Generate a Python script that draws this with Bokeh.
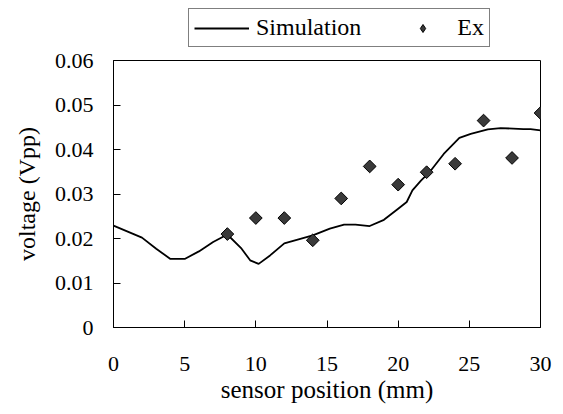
import numpy as np
from bokeh.plotting import figure
from bokeh.layouts import column
from bokeh.models import Legend, LegendItem, Range1d, FixedTicker
from bokeh.embed import file_html
from bokeh.resources import INLINE

# Simulation curve
sim_x = [0, 2, 3, 4, 5, 6, 7, 8, 9, 9.6, 10.2, 11, 12, 14, 15.2, 16.2, 17, 18, 19, 20,
         20.6, 21, 21.6, 22.2, 23.2, 24.3, 25.1, 26.3, 27.2, 28.8, 29.3, 30]
sim_y = [0.0229, 0.0202, 0.0177, 0.0154, 0.0154, 0.0171, 0.0192, 0.0209, 0.0177, 0.0151,
         0.0143, 0.0162, 0.0189, 0.0207, 0.0222, 0.0231, 0.0231, 0.0228, 0.0242, 0.0267,
         0.0282, 0.0308, 0.0330, 0.0349, 0.0390, 0.0426, 0.0435, 0.0445, 0.0448, 0.0446,
         0.0446, 0.0443]

# Experimental points (Ex)
ex_x = [8, 10, 12, 14, 16, 18, 20, 22, 24, 26, 28, 30]
ex_y = [0.0210, 0.0246, 0.0246, 0.0196, 0.0290, 0.0362, 0.0321, 0.0349, 0.0368,
        0.0465, 0.0381, 0.0482]

x_ticks = [0, 5, 10, 15, 20, 25, 30]
y_ticks = [0, 0.01, 0.02, 0.03, 0.04, 0.05, 0.06]

FONT = "Liberation Serif"
PT_FILL = "#3a3a3a"

# ---------------- main chart ----------------
p = figure(output_backend="svg", toolbar_location=None,
           width=556, height=361,
           min_border_left=113, min_border_top=13, min_border_right=16, min_border_bottom=81,
           x_range=Range1d(0, 30), y_range=Range1d(0, 0.06))

p.background_fill_color = "white"
p.border_fill_color = "white"
p.outline_line_color = "black"
p.outline_line_width = 1
p.xgrid.visible = False
p.ygrid.visible = False

p.line(sim_x, sim_y, line_color="black", line_width=1.8)
p.scatter(ex_x, ex_y, marker="square", angle=np.pi / 4, size=9,
          fill_color=PT_FILL, line_color="black", line_width=1)

for ax in (p.xaxis[0], p.yaxis[0]):
    ax.major_label_text_font = FONT
    ax.major_label_text_font_size = "22px"
    ax.major_label_text_color = "black"
    ax.axis_label_text_font = FONT
    ax.axis_label_text_font_style = "normal"
    ax.axis_label_text_font_size = "25px"
    ax.axis_label_text_color = "black"
    ax.axis_line_color = "black"
    ax.major_tick_line_color = "black"
    ax.major_tick_in = 7
    ax.major_tick_out = 0
    ax.minor_tick_line_color = None

p.yaxis.axis_label_text_font_size = "24px"
p.xaxis.ticker = FixedTicker(ticks=x_ticks)
p.yaxis.ticker = FixedTicker(ticks=y_ticks)
p.yaxis.major_label_overrides = {0: "0", 0.01: "0.01", 0.02: "0.02", 0.03: "0.03",
                                 0.04: "0.04", 0.05: "0.05", 0.06: "0.06"}
p.xaxis.axis_label = "sensor position (mm)"
p.yaxis.axis_label = "voltage (Vpp)"
p.xaxis.major_label_standoff = 29
p.yaxis.major_label_standoff = 20
p.xaxis.axis_label_standoff = 2
p.yaxis.axis_label_standoff = 12

# ---------------- legend strip ----------------
lg = figure(output_backend="svg", toolbar_location=None,
            width=556, height=47, min_border=0,
            x_axis_type=None, y_axis_type=None,
            x_range=Range1d(-1000, -999), y_range=Range1d(-1000, -999))
lg.outline_line_color = None
lg.xgrid.visible = False
lg.ygrid.visible = False
lg.background_fill_color = "white"
lg.border_fill_color = "white"

k_line = lg.line(sim_x, sim_y, line_color="black", line_width=1.8)
k_pts = lg.scatter(ex_x, ex_y, marker="diamond", size=17,
                   fill_color=PT_FILL, line_color="black", line_width=1)

legend = Legend(items=[LegendItem(label="Simulation", renderers=[k_line]),
                       LegendItem(label="Ex", renderers=[k_pts])],
                orientation="horizontal", location=(75, 0),
                label_text_font=FONT, label_text_font_size="24px",
                label_text_color="black",
                glyph_width=55, glyph_height=20, label_standoff=7, spacing=34,
                padding=5, margin=0,
                border_line_color="black", border_line_width=1,
                background_fill_alpha=1)
lg.add_layout(legend, "center")

layout = column(lg, p, spacing=0)

open("out.html", "w").write(file_html(layout, INLINE))
